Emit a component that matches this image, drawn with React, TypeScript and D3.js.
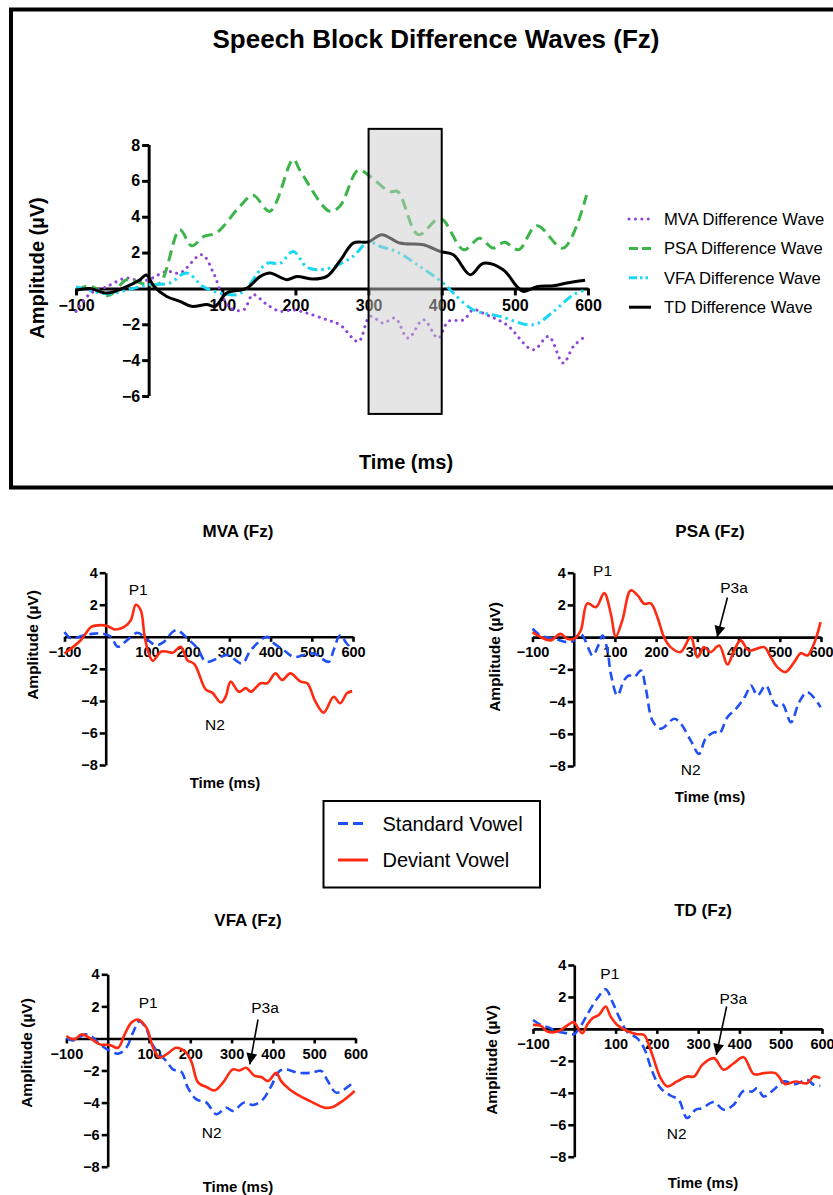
import React, { useEffect, useRef } from "react";
import * as d3 from "d3";

// ---------------- Top chart data ----------------
const diffTitle = "Speech Block Difference Waves (Fz)";
const diffTickX = [-100, 100, 200, 300, 400, 500, 600];
const diffTickY = [-6, -4, -2, 2, 4, 6, 8];
const diffLabels = ["MVA Difference Wave", "PSA Difference Wave", "VFA Difference Wave", "TD Difference Wave"];
const diffWindow = [300, 400];
const diffWindowAmp = [-7, 8.9];

const mvaDiffT = [-100, -81, -58, -31, -12, 0, 24, 42, 72, 88, 99, 111, 129, 142, 161, 179, 197, 215, 243, 261, 286, 302, 320, 336, 354, 375, 395, 409, 430, 443, 461, 489, 525, 546, 566, 580, 593];
const mvaDiffV = [-1.28, -0.3, 0.1, 0.58, 0.4, 0.5, 0.95, 0.86, 1.88, 0.86, -0.3, -1.1, -1.2, -0.35, -0.9, -1.28, -1.2, -1.37, -1.75, -2.03, -2.96, -1.56, -1.93, -1.65, -2.77, -1.75, -2.77, -1.84, -1.75, -1.19, -1.47, -2.03, -3.42, -2.68, -4.16, -3.23, -2.77];

const psaDiffT = [-100, -81, -56, -30, -12, 0, 15, 42, 58, 75, 92, 124, 142, 165, 197, 206, 247, 261, 286, 302, 329, 340, 368, 398, 430, 452, 470, 486, 505, 530, 566, 598];
const psaDiffV = [-0.1, 0.15, -0.4, 0.5, 0.3, 0.2, 0.3, 3.27, 2.38, 2.9, 3.1, 4.57, 5.2, 4.3, 7.2, 6.6, 4.3, 4.6, 6.6, 6.25, 5.4, 5.4, 3.0, 3.9, 2.16, 2.8, 2.25, 2.57, 2.16, 3.5, 2.25, 5.2];

const vfaDiffT = [-100, -57, -22, 0, 28, 51, 74, 97, 120, 133, 161, 179, 197, 215, 229, 252, 279, 300, 316, 338, 370, 402, 416, 443, 480, 525, 553, 580, 598];
const vfaDiffV = [0.1, -0.3, 0, 0.2, 0.3, 0.86, 0.1, -0.25, -0.35, 0, 1.4, 1.4, 2.06, 1.2, 1.04, 1.2, 1.8, 2.6, 2.34, 2.06, 1.23, 0.3, -0.26, -1.19, -1.56, -2.03, -1.28, -0.35, -0.07];

const tdDiffT = [-100, -81, -58, -31, -12, -4, 7, 24, 42, 58, 79, 90, 106, 133, 152, 165, 188, 202, 224, 243, 262, 279, 300, 318, 343, 375, 398, 416, 439, 457, 484, 503, 512, 530, 553, 571, 596];
const tdDiffV = [-0.1, 0, -0.26, 0.1, 0.5, 0.75, 0.1, -0.45, -0.72, -1.0, -0.9, -1.0, -0.26, 0, 0.67, 0.86, 0.49, 0.67, 0.52, 0.67, 1.6, 2.53, 2.6, 3.0, 2.53, 2.44, 2.06, 1.88, 0.76, 1.4, 1.04, 0.1, -0.17, 0.1, 0.15, 0.3, 0.45];

// ---------------- Small panels data ----------------
const panelTickX = [-100, 100, 200, 300, 400, 500, 600];
const panelTickY = [-8, -6, -4, -2, 2, 4];
const panelTitles = ["MVA (Fz)", "PSA (Fz)", "VFA (Fz)", "TD (Fz)"];
const conditionLabels = ["Standard Vowel", "Deviant Vowel"];

const mvaStdT = [-100, -84, -52, -27, -7, 13, 29, 57, 77, 102, 122, 142, 162, 174, 198, 223, 243, 271, 295, 331, 352, 392, 408, 432, 456, 481, 505, 541, 553, 569, 589, 598];
const mvaStdV = [0.3, -0.1, 0.1, 0.2, 0.2, 0, -0.62, -0.1, 0.25, -0.2, -0.52, -0.3, 0.3, 0.41, -0.1, -0.73, -1.56, -1.35, -1.14, -1.66, -0.83, 0, -0.41, -0.83, -1.25, -1.14, -1.04, -1.56, -0.83, 0.1, -0.52, -0.2];
const mvaDevT = [-100, -60, -35, -11, 5, 21, 45, 61, 73, 85, 94, 102, 114, 134, 150, 162, 182, 198, 215, 243, 259, 279, 291, 303, 323, 340, 352, 376, 392, 412, 428, 448, 473, 489, 509, 529, 553, 569, 585, 598];
const mvaDevV = [-1.04, -0.2, 0.62, 0.73, 0.66, 0.46, 0.62, 1.04, 2.0, 1.66, 0.1, -0.83, -1.5, -0.93, -0.93, -1.0, -0.62, -1.45, -1.7, -3.3, -3.5, -4.1, -3.74, -2.8, -3.43, -3.2, -3.43, -2.9, -2.9, -2.28, -2.7, -2.28, -2.8, -2.9, -4.05, -4.73, -3.74, -4.15, -3.53, -3.39];

const psaStdT = [-100, -80, -47, -7, 17, 46, 58, 70, 82, 90, 106, 122, 134, 147, 163, 175, 191, 211, 244, 260, 284, 304, 320, 341, 353, 373, 397, 417, 430, 446, 466, 490, 506, 527, 547, 567, 599];
const psaStdV = [0.52, 0.1, -0.1, -0.31, 0.2, -1.14, -0.62, 0.1, -0.83, -2.28, -3.62, -2.69, -2.38, -2.48, -2.07, -3.2, -5.18, -5.69, -5.07, -5.38, -6.42, -7.25, -6.31, -5.9, -6.0, -4.97, -4.35, -3.62, -3.0, -3.62, -3.0, -4.24, -4.14, -5.28, -4.04, -3.42, -4.35];
const psaDevT = [-100, -80, -56, -32, -16, 1, 17, 33, 54, 74, 90, 102, 118, 138, 155, 171, 187, 203, 219, 235, 259, 284, 300, 316, 332, 353, 373, 389, 405, 425, 462, 478, 494, 514, 535, 551, 567, 583, 599];
const psaDevV = [0.31, 0, -0.2, 0.2, -0.1, -0.1, 0.41, 2.1, 1.86, 2.73, 1.45, 0.04, 1.04, 2.9, 2.59, 2.07, 2.1, 1.24, 0, -0.62, -0.93, 0, -1.24, -0.62, -0.93, -0.52, -1.7, -0.83, -0.2, -0.83, -0.62, -1.24, -1.86, -2.17, -1.55, -1.0, -1.14, -0.41, 0.93];

const vfaStdT = [-100, -84, -56, -40, -19, 25, 45, 61, 77, 94, 106, 122, 142, 158, 178, 194, 215, 239, 263, 287, 303, 331, 352, 376, 396, 416, 432, 460, 493, 517, 533, 553, 573, 598];
const vfaStdV = [0.04, -0.12, 0.25, 0.15, -0.37, -0.95, -0.58, 0.35, 1.08, 0.56, -0.27, -0.89, -1.41, -1.93, -2.07, -3.07, -3.8, -4.0, -4.73, -4.32, -4.52, -4.0, -4.15, -3.8, -2.97, -2.03, -1.93, -2.14, -2.14, -2.03, -2.66, -3.38, -3.17, -2.66];
const vfaDevT = [-100, -80, -64, -44, -19, 5, 25, 41, 57, 73, 94, 110, 126, 142, 166, 186, 202, 219, 239, 259, 279, 303, 319, 335, 356, 372, 388, 408, 420, 440, 465, 497, 525, 545, 569, 598];
const vfaDevV = [0.15, -0.06, 0.25, 0.04, -0.37, -0.41, -0.58, 0.25, 0.98, 1.18, 0.66, -0.58, -1.2, -1.0, -0.58, -0.79, -1.41, -2.76, -3.03, -3.24, -2.76, -1.93, -2.0, -1.83, -2.34, -2.41, -2.66, -2.14, -2.66, -3.17, -3.59, -4.0, -4.32, -4.27, -3.9, -3.28];

const tdStdT = [-100, -81, -61, -41, -17, -1, 15, 31, 56, 76, 92, 108, 128, 152, 169, 189, 209, 233, 253, 273, 294, 310, 338, 362, 386, 410, 431, 443, 459, 483, 507, 535, 564, 580, 596];
const tdStdV = [0.56, 0.25, 0.08, -0.17, -0.27, -0.33, 0.15, 0.88, 1.92, 2.48, 1.71, 0.77, -0.17, -0.58, -1.21, -2.67, -3.71, -4.17, -4.44, -5.58, -5.06, -4.96, -4.58, -5.06, -4.75, -3.88, -3.92, -3.71, -4.23, -3.81, -3.29, -3.46, -3.19, -3.5, -3.56];
const tdDevT = [-100, -81, -65, -41, -9, -1, 19, 31, 44, 60, 76, 88, 104, 128, 152, 169, 189, 209, 225, 249, 273, 290, 310, 338, 362, 386, 410, 435, 459, 487, 511, 535, 564, 580, 596];
const tdDevV = [0.25, 0.19, -0.17, -0.17, 0.35, 0.42, -0.27, 0.25, 0.67, 0.88, 1.4, 0.77, 0.25, -0.13, -0.33, -0.38, -1.63, -3.08, -3.6, -3.29, -2.98, -2.98, -2.25, -1.83, -2.56, -2.15, -1.77, -2.83, -2.77, -2.77, -3.46, -3.29, -3.4, -2.98, -3.08];

// annotation positions (data units: [ms, µV])
const annP1 = [[79, 2.97], [70, 4.14], [98, 2.22], [86, 3.48]];
const annN2 = [[265, -5.5], [284, -8.2], [252, -5.88], [248, -6.54]];
const annP3a = [null, [389, 3.08], [381, 1.9], [385, 1.92]];
const arrowP3a = [null, [[373, 2.46], [348, 0]], [[364, 1.18], [344, -1.62]], [[369, 1.4], [344, -1.63]]];

const FONT = '"Liberation Sans", Arial, Helvetica, sans-serif';
const COLORS = { mva: "#8f45d8", psa: "#3bb54a", vfa: "#1ad7f2", td: "#000000", std: "#1f4ff5", dev: "#ff2a10" };

const zip = (t: number[], v: number[]) => t.map((d, i) => [d, v[i]] as [number, number]);

export default function App() {
  const ref = useRef<SVGSVGElement>(null);

  useEffect(() => {
    const svg = d3.select(ref.current);
    svg.selectAll("*").remove();

    const defs = svg.append("defs");
    defs.append("marker").attr("id", "arrowhead").attr("viewBox", "0 0 10 10")
      .attr("refX", 10).attr("refY", 5).attr("markerWidth", 14).attr("markerHeight", 11)
      .attr("markerUnits", "userSpaceOnUse").attr("orient", "auto")
      .append("path").attr("d", "M0,0 L10,5 L0,10 z").attr("fill", "#000");

    // ---- frame ----
    svg.append("rect").attr("x", 11).attr("y", 9.5).attr("width", 900).attr("height", 478)
      .attr("fill", "none").attr("stroke", "#000").attr("stroke-width", 4);

    // ---- Top chart ----
    const x = d3.scaleLinear().domain([-100, 600]).range([76, 588]);
    const y = d3.scaleLinear().domain([-6, 8]).range([396, 145]);
    const top = svg.append("g");

    top.append("text").attr("x", 436).attr("y", 48).attr("text-anchor", "middle")
      .attr("font-family", FONT).attr("font-weight", "bold").attr("font-size", 26).text(diffTitle);

    const xAxis = top.append("g").attr("transform", `translate(0,${y(0)})`)
      .call(d3.axisBottom(x).tickValues(diffTickX).tickSize(7).tickSizeOuter(0).tickPadding(4).tickFormat(d3.format("d")));
    const yAxis = top.append("g").attr("transform", `translate(${x(0)},0)`)
      .call(d3.axisLeft(y).tickValues(diffTickY).tickSize(7).tickSizeOuter(0).tickPadding(2).tickFormat(d3.format("d")));
    [xAxis, yAxis].forEach((a) => {
      a.select(".domain").attr("stroke-width", 3).attr("stroke", "#000");
      a.selectAll(".tick line").attr("stroke-width", 3).attr("stroke", "#000");
      a.selectAll("text").attr("font-family", FONT).attr("font-weight", "bold").attr("font-size", 16).attr("fill", "#000");
    });
    yAxis.select(".domain").attr("d", `M0,${y(-6)}V${y(8)}`);

    top.append("text").attr("transform", `translate(37,268) rotate(-90)`).attr("text-anchor", "middle")
      .attr("dy", "0.35em").attr("font-family", FONT).attr("font-weight", "bold").attr("font-size", 20).text("Amplitude (µV)");
    top.append("text").attr("x", 406).attr("y", 469).attr("text-anchor", "middle")
      .attr("font-family", FONT).attr("font-weight", "bold").attr("font-size", 20).text("Time (ms)");

    const line = d3.line<[number, number]>().x((d) => x(d[0])).y((d) => y(d[1])).curve(d3.curveCatmullRom.alpha(0.5));
    const series = [
      { data: zip(mvaDiffT, mvaDiffV), color: COLORS.mva, dash: "0.1 6.3", legDash: "0.1 6.3", cap: "round", w: 3 },
      { data: zip(psaDiffT, psaDiffV), color: COLORS.psa, dash: "11 6", legDash: "9 4", cap: "butt", w: 3 },
      { data: zip(vfaDiffT, vfaDiffV), color: COLORS.vfa, dash: "10 4 2.5 4 2.5 4", legDash: "8 3 2.5 3 2.5 3", cap: "butt", w: 3 },
      { data: zip(tdDiffT, tdDiffV), color: COLORS.td, dash: null, legDash: null, cap: "butt", w: 3 },
    ];
    series.forEach((s) => {
      top.append("path").attr("d", line(s.data)).attr("fill", "none").attr("stroke", s.color)
        .attr("stroke-width", s.w).attr("stroke-dasharray", s.dash).attr("stroke-linecap", s.cap)
        .attr("stroke-linejoin", "round");
    });

    // analysis window
    top.append("rect").attr("x", x(diffWindow[0])).attr("y", y(diffWindowAmp[1]))
      .attr("width", x(diffWindow[1]) - x(diffWindow[0])).attr("height", y(diffWindowAmp[0]) - y(diffWindowAmp[1]))
      .attr("fill", "#cccccc").attr("fill-opacity", 0.5).attr("stroke", "#000").attr("stroke-width", 2);

    // legend
    const lg = top.append("g");
    series.forEach((s, i) => {
      const ly = 219 + i * 29.4;
      lg.append("line").attr("x1", 629).attr("x2", 651).attr("y1", ly).attr("y2", ly)
        .attr("stroke", s.color).attr("stroke-width", 3).attr("stroke-dasharray", s.legDash)
        .attr("stroke-linecap", s.cap);
      lg.append("text").attr("x", 664).attr("y", ly).attr("dy", "0.35em").attr("font-family", FONT)
        .attr("font-size", 16.6).text(diffLabels[i]);
    });

    // ---- Small panels ----
    const panels = [
      { title: panelTitles[0], xr: [64.5, 353], yr: [765, 572.7], tt: [238, 537], xl: [225, 788], yl: [33, 645], std: zip(mvaStdT, mvaStdV), dev: zip(mvaDevT, mvaDevV) },
      { title: panelTitles[1], xr: [532.5, 821], yr: [766, 572.7], tt: [710, 537], xl: [710, 802], yl: [495, 657], std: zip(psaStdT, psaStdV), dev: zip(psaDevT, psaDevV) },
      { title: panelTitles[2], xr: [66.4, 355.5], yr: [1166.7, 974.3], tt: [248, 926], xl: [238, 1192], yl: [27, 1053], std: zip(vfaStdT, vfaStdV), dev: zip(vfaDevT, vfaDevV) },
      { title: panelTitles[3], xr: [533, 822], yr: [1156.7, 965], tt: [703, 916], xl: [703, 1188], yl: [492, 1060], std: zip(tdStdT, tdStdV), dev: zip(tdDevT, tdDevV) },
    ];

    panels.forEach((p, i) => {
      const g = svg.append("g");
      const px = d3.scaleLinear().domain([-100, 600]).range(p.xr);
      const py = d3.scaleLinear().domain([-8, 4]).range(p.yr);

      g.append("text").attr("x", p.tt[0]).attr("y", p.tt[1]).attr("text-anchor", "middle")
        .attr("font-family", FONT).attr("font-weight", "bold").attr("font-size", 17).text(p.title);

      const ax = g.append("g").attr("transform", `translate(0,${py(0)})`)
        .call(d3.axisBottom(px).tickValues(panelTickX).tickSize(5).tickSizeOuter(0).tickPadding(5).tickFormat(d3.format("d")));
      const ay = g.append("g").attr("transform", `translate(${px(0)},0)`)
        .call(d3.axisLeft(py).tickValues(panelTickY).tickSize(6).tickSizeOuter(0).tickPadding(2).tickFormat(d3.format("d")));
      [ax, ay].forEach((a) => {
        a.select(".domain").attr("stroke-width", 2.6).attr("stroke", "#000");
        a.selectAll(".tick line").attr("stroke-width", 2.6).attr("stroke", "#000");
        a.selectAll("text").attr("font-family", FONT).attr("font-weight", "bold").attr("font-size", 14.5).attr("fill", "#000");
      });

      g.append("text").attr("transform", `translate(${p.yl[0]},${p.yl[1]}) rotate(-90)`).attr("text-anchor", "middle")
        .attr("dy", "0.35em").attr("font-family", FONT).attr("font-weight", "bold").attr("font-size", 15.5).text("Amplitude (µV)");
      g.append("text").attr("x", p.xl[0]).attr("y", p.xl[1]).attr("text-anchor", "middle")
        .attr("font-family", FONT).attr("font-weight", "bold").attr("font-size", 15).text("Time (ms)");

      const pl = d3.line<[number, number]>().x((d) => px(d[0])).y((d) => py(d[1])).curve(d3.curveCatmullRom.alpha(0.5));
      g.append("path").attr("d", pl(p.std)).attr("fill", "none").attr("stroke", COLORS.std)
        .attr("stroke-width", 2.6).attr("stroke-dasharray", "9 5").attr("stroke-linejoin", "round");
      g.append("path").attr("d", pl(p.dev)).attr("fill", "none").attr("stroke", COLORS.dev)
        .attr("stroke-width", 2.6).attr("stroke-linejoin", "round");

      const ann = (pos: number[], label: string) =>
        g.append("text").attr("x", px(pos[0])).attr("y", py(pos[1])).attr("dy", "0.35em").attr("text-anchor", "middle")
          .attr("font-family", FONT).attr("font-size", 15.5).text(label);
      ann(annP1[i], "P1");
      ann(annN2[i], "N2");
      const p3 = annP3a[i];
      const ar = arrowP3a[i];
      if (p3 && ar) {
        ann(p3, "P3a");
        g.append("line").attr("x1", px(ar[0][0])).attr("y1", py(ar[0][1])).attr("x2", px(ar[1][0])).attr("y2", py(ar[1][1]))
          .attr("stroke", "#000").attr("stroke-width", 1.6).attr("marker-end", "url(#arrowhead)");
      }
    });

    // ---- middle legend ----
    const ml = svg.append("g");
    ml.append("rect").attr("x", 323.5).attr("y", 801).attr("width", 216.5).attr("height", 86.5)
      .attr("fill", "#fff").attr("stroke", "#000").attr("stroke-width", 2);
    [COLORS.std, COLORS.dev].forEach((c, i) => {
      const ly = 823.5 + i * 36.5;
      ml.append("line").attr("x1", 338).attr("x2", 368).attr("y1", ly).attr("y2", ly).attr("stroke", c)
        .attr("stroke-width", 3).attr("stroke-dasharray", i === 0 ? "10 5" : null);
      ml.append("text").attr("x", 382.5).attr("y", ly).attr("dy", "0.35em").attr("font-family", FONT)
        .attr("font-size", 20).text(conditionLabels[i]);
    });
  }, []);

  return (
    <svg ref={ref} width={833} height={1195} style={{ position: "absolute", left: 0, top: 0, background: "#fff" }} />
  );
}
